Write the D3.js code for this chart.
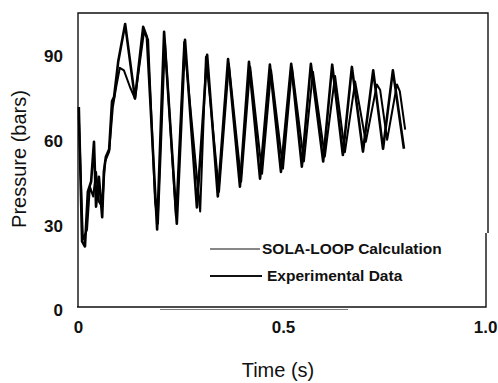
<!DOCTYPE html>
<html>
<head>
<meta charset="utf-8">
<script src="https://cdn.jsdelivr.net/npm/d3@7"></script>
<style>
  body { margin: 0; background: #fff; }
  svg { display: block; font-family: "Liberation Sans", Arial, sans-serif; }
</style>
</head>
<body>
<svg id="chart" width="498" height="383"></svg>
<script>
// time (s) / pressure (bars)
const expTime = [0.002, 0.010, 0.017, 0.024, 0.032, 0.039, 0.044, 0.051, 0.059, 0.063, 0.068, 0.076, 0.083, 0.088, 0.098,
  0.115, 0.139, 0.159, 0.168, 0.193, 0.210, 0.241, 0.261, 0.290, 0.315, 0.341, 0.366, 0.395, 0.417, 0.444, 0.468,
  0.495, 0.520, 0.546, 0.568, 0.598, 0.620, 0.646, 0.668, 0.695, 0.720, 0.744, 0.768, 0.795];
const expPressure = [72, 24.4, 22.6, 42, 45.6, 59.7, 36.7, 47.3, 33, 49, 54.4, 57, 74, 75.6, 88,
  101.4, 75, 100.4, 96.8, 28.6, 98.6, 30.7, 95.8, 36.4, 90.5, 40.3, 89, 43.8, 88, 46.6, 87,
  49, 87.3, 50.9, 87.3, 52.7, 87, 55, 86.2, 56.2, 85, 57.2, 85, 57.2];

const calcTime = [0.002, 0.012, 0.022, 0.029, 0.037, 0.044, 0.051, 0.059, 0.066, 0.076, 0.085, 0.093, 0.102, 0.112,
  0.127, 0.139, 0.151, 0.161, 0.171, 0.188, 0.195, 0.212, 0.239, 0.259, 0.298, 0.312, 0.344, 0.368, 0.398, 0.420,
  0.449, 0.471, 0.500, 0.522, 0.551, 0.573, 0.602, 0.627, 0.651, 0.676, 0.702, 0.729, 0.737, 0.754, 0.778, 0.785, 0.798];
const calcPressure = [68.6, 25, 28.6, 43.8, 40.3, 49, 38.5, 36.7, 52.7, 56.2, 72, 79, 85.9, 85,
  79, 75, 88, 98.6, 95.8, 38.5, 30.7, 95, 33.2, 95, 35, 89.8, 42, 87.3, 45.6, 86.2,
  48.4, 85, 50.2, 86, 52.7, 84.5, 54.4, 83, 56, 81, 59.7, 80, 78, 60.4, 80, 77.5, 64];

const yTicks = [0, 30, 60, 90];
const xTicks = [0, 0.5, 1.0];
const xTickLabels = ["0", "0.5", "1.0"];
const legendLabels = ["SOLA-LOOP Calculation", "Experimental Data"];

const svg = d3.select("#chart");

const x = d3.scaleLinear().domain([0, 1]).range([78, 488]);
const y = d3.scaleLinear().domain([0, 90]).range([310.3, 56.2]);

// frame (scanned box, right side slightly offset in lower part)
const frame = svg.append("g").attr("stroke", "#111").attr("fill", "none");
frame.append("path")
  .attr("stroke-width", 1.4)
  .attr("d", `M${x(0)},307 L${x(0)},13 L${x(1)},13 L${x(1)},233 M${x(1) - 2},233 L${x(1) - 2},307 L${x(0) - 1},307`);
frame.append("line")
  .attr("x1", 160).attr("x2", 348).attr("y1", 309.5).attr("y2", 309.5)
  .attr("stroke-width", 0.8).attr("stroke", "#555");

// axes (labels only)
const yAxis = svg.append("g")
  .attr("transform", `translate(${x(0)},0)`)
  .call(d3.axisLeft(y).tickValues(yTicks).tickSize(0).tickPadding(15).tickFormat(d3.format("d")));
const xAxis = svg.append("g")
  .attr("transform", `translate(0,${y(0)})`)
  .call(d3.axisBottom(x).tickValues(xTicks).tickSize(0).tickPadding(11).tickFormat((d, i) => xTickLabels[i]));
[yAxis, xAxis].forEach(a => {
  a.select(".domain").remove();
  a.selectAll("text")
    .attr("fill", "#111")
    .style("font-size", "17px")
    .style("font-weight", "bold")
    .style("font-family", "'Liberation Sans', Arial, sans-serif");
});
// last label sits against the right edge, as in the scan
xAxis.selectAll("text").filter(d => d === 1).attr("text-anchor", "end").attr("x", 9);

// axis titles
svg.append("text")
  .attr("transform", "translate(26,159) rotate(-90)")
  .attr("text-anchor", "middle")
  .style("font-size", "20px")
  .attr("fill", "#111")
  .text("Pressure (bars)");
svg.append("text")
  .attr("x", 278).attr("y", 377)
  .attr("text-anchor", "middle")
  .style("font-size", "20px")
  .attr("fill", "#111")
  .text("Time (s)");

// series
const line = d3.line()
  .x(d => x(d[0]))
  .y(d => y(d[1]));

const calcData = calcTime.map((t, i) => [t, calcPressure[i]]);
const expData = expTime.map((t, i) => [t, expPressure[i]]);

svg.append("path")
  .datum(calcData)
  .attr("fill", "none")
  .attr("stroke", "#000")
  .attr("stroke-width", 2)
  .attr("stroke-linejoin", "round")
  .attr("d", line);
svg.append("path")
  .datum(expData)
  .attr("fill", "none")
  .attr("stroke", "#000")
  .attr("stroke-width", 2.6)
  .attr("stroke-linejoin", "round")
  .attr("d", line);

// legend
const legend = svg.append("g");
const legendY = [249, 276];
const legendW = [1, 2];
legendLabels.forEach((label, i) => {
  legend.append("line")
    .attr("x1", 210).attr("x2", 260 + i * 2)
    .attr("y1", legendY[i]).attr("y2", legendY[i])
    .attr("stroke", "#111").attr("stroke-width", legendW[i]);
  legend.append("text")
    .attr("x", 262 + i * 5).attr("y", legendY[i] + 5)
    .style("font-size", "15.5px")
    .style("font-weight", "bold")
    .attr("fill", "#111")
    .text(label);
});
</script>
</body>
</html>
